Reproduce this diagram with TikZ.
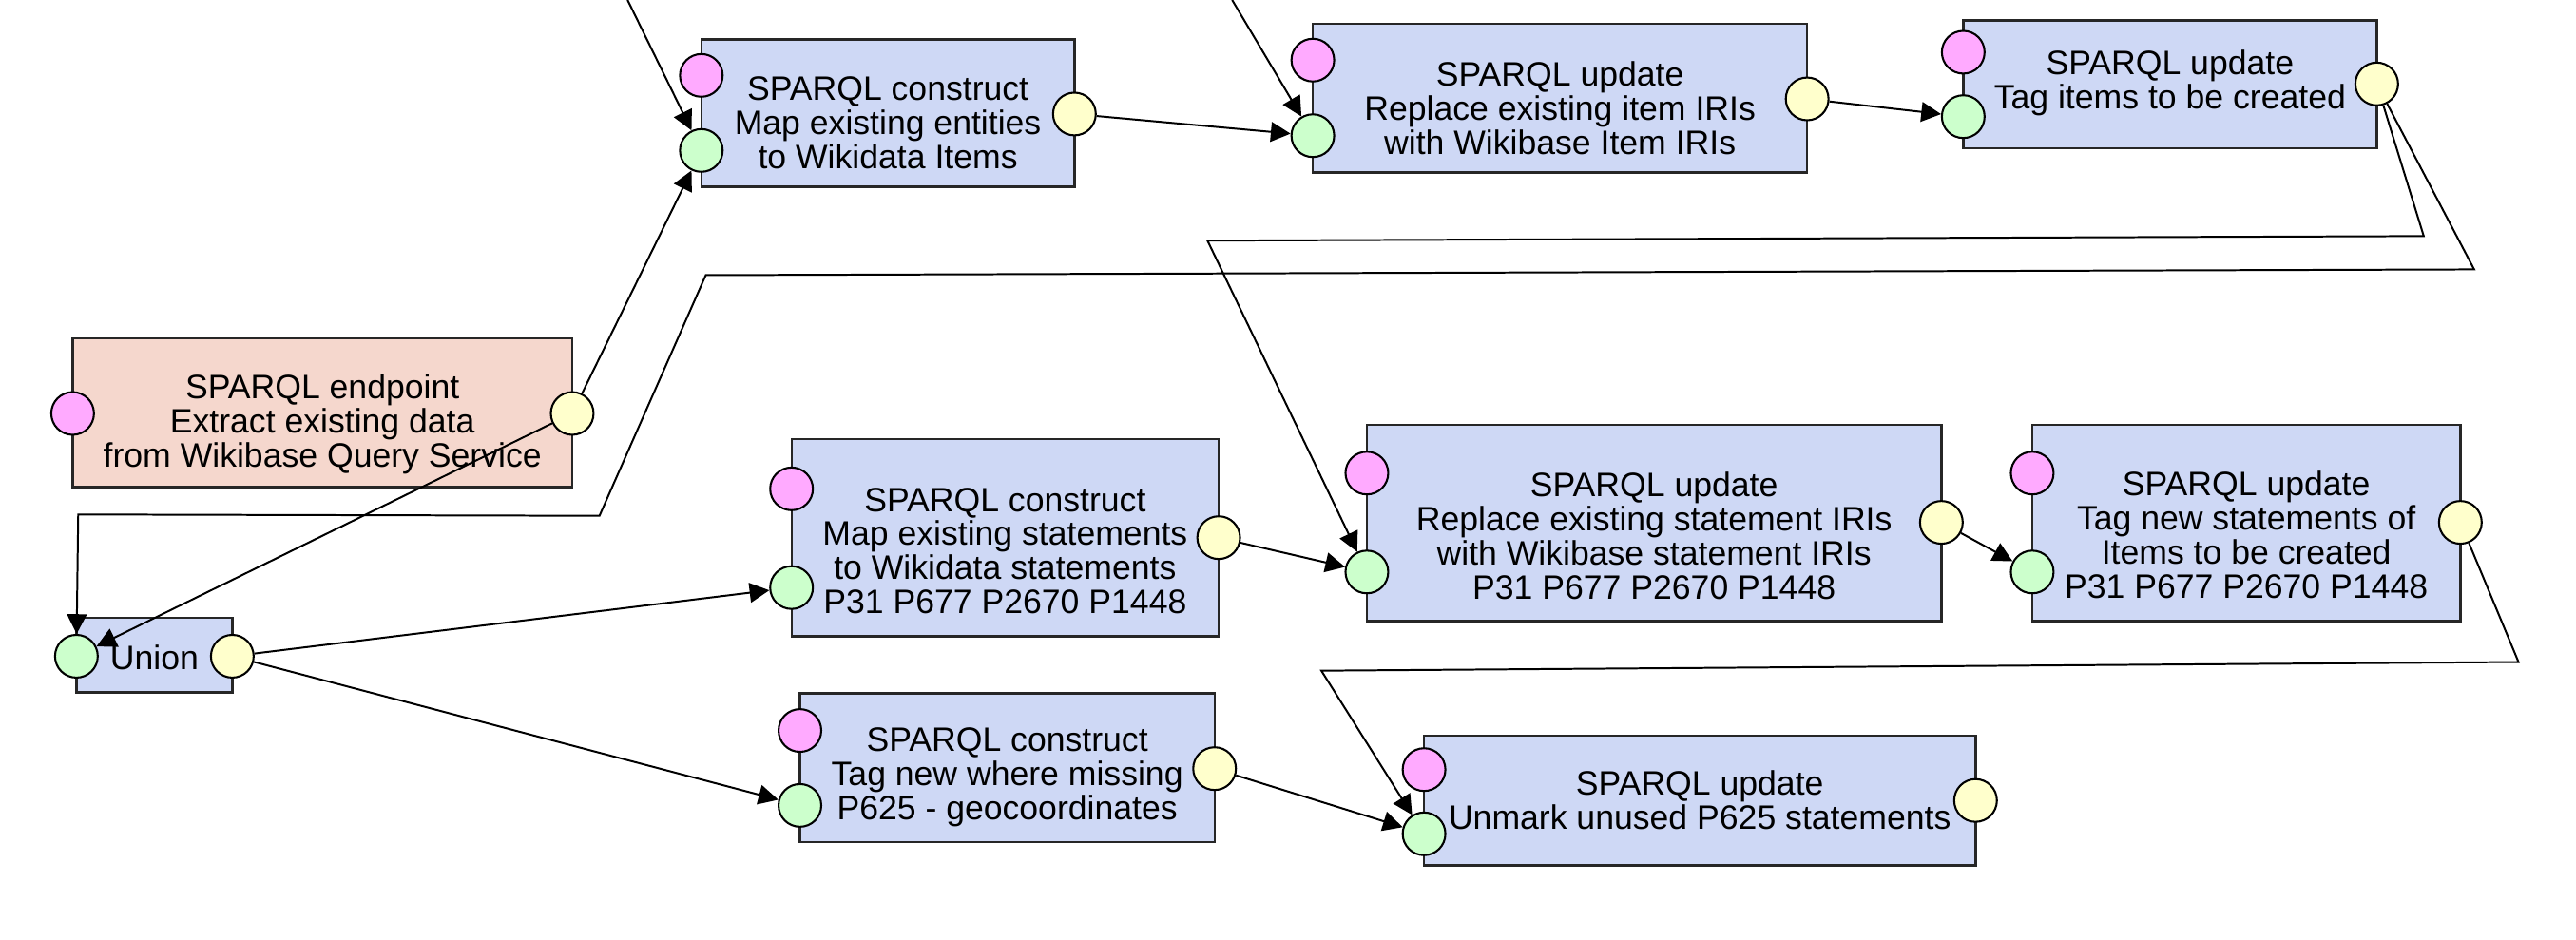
\documentclass[tikz,border=0pt]{standalone}
\usepackage{fontspec}
\setmainfont{Liberation Sans}
\usetikzlibrary{arrows.meta}
\definecolor{taskblue}{RGB}{206,216,245}
\definecolor{srcpink}{RGB}{245,215,205}
\definecolor{parampink}{RGB}{255,170,255}
\definecolor{ingreen}{RGB}{204,255,204}
\definecolor{outyellow}{RGB}{255,255,204}

\begin{document}
\begin{tikzpicture}[x=1pt,y=-1pt,
    task/.style={rectangle,draw=black!85,line width=1.4pt,fill=taskblue,inner sep=0pt},
    source/.style={task,fill=srcpink},
    lbl/.style={align=center,inner sep=0pt,font=\fontsize{20.6}{20.8}\selectfont},
    port/.style={circle,draw=black,line width=1.2pt,minimum size=26pt,inner sep=0pt},
    param/.style={port,fill=parampink},
    inport/.style={port,fill=ingreen},
    outport/.style={port,fill=outyellow},
    flow/.style={-{Triangle[length=12pt,width=12pt]},line width=1.15pt}]
    \useasboundingbox (0,0) rectangle (1568,571.7);

    % boxes
    \node[source,minimum width=304.1pt,minimum height=90.5pt] (ep) at (196.25,251.25) {};
    \node[task,minimum width=227.1pt,minimum height=89.7pt] (c1) at (540.45,68.95) {};
    \node[task,minimum width=300.9pt,minimum height=90.5pt] (u1) at (949.55,59.75) {};
    \node[task,minimum width=251.7pt,minimum height=77.8pt] (u2) at (1320.85,51.4) {};
    \node[task,minimum width=94.9pt,minimum height=45.5pt] (un) at (93.95,398.75) {};
    \node[task,minimum width=260pt,minimum height=120pt] (c2) at (611.8,327.4) {};
    \node[task,minimum width=349.7pt,minimum height=119.5pt] (u3) at (1006.85,318.25) {};
    \node[task,minimum width=260.6pt,minimum height=119.5pt] (u4) at (1367.3,318.25) {};
    \node[task,minimum width=252.4pt,minimum height=90.4pt] (c3) at (613.1,467.4) {};
    \node[task,minimum width=335.7pt,minimum height=78.7pt] (u5) at (1034.65,487.35) {};

    % texts
    \node[lbl] (ept) at (196.25,258) {SPARQL endpoint\\Extract existing data\\from Wikibase Query Service};
    \node[lbl] (c1t) at (540.45,75) {SPARQL construct\\Map existing entities\\to Wikidata Items};
    \node[lbl] (u1t) at (949.55,66) {SPARQL update\\Replace existing item IRIs\\with Wikibase Item IRIs};
    \node[lbl] (u2t) at (1320.85,50.7) {SPARQL update\\Tag items to be created};
    \node[lbl] (unt) at (94,400) {Union};
    \node[lbl] (c2t) at (611.8,335.4) {SPARQL construct\\Map existing statements\\to Wikidata statements\\P31 P677 P2670 P1448};
    \node[lbl] (u3t) at (1006.85,326) {SPARQL update\\Replace existing statement IRIs\\with Wikibase statement IRIs\\P31 P677 P2670 P1448};
    \node[lbl] (u4t) at (1367.3,325.5) {SPARQL update\\Tag new statements of\\Items to be created\\P31 P677 P2670 P1448};
    \node[lbl] (c3t) at (613.1,473) {SPARQL construct\\Tag new where missing\\P625 - geocoordinates};
    \node[lbl] (u5t) at (1034.65,486.8) {SPARQL update\\Unmark unused P625 statements};

    % ports
    \node[param] (epp) at (44.2,251.7) {};
    \node[outport] (epo) at (348.3,251.7) {};
    \node[param] (c1p) at (426.9,45.9) {};
    \node[inport] (c1i) at (426.9,91.6) {};
    \node[outport] (c1o) at (654,69.4) {};
    \node[param] (u1p) at (799.1,36.6) {};
    \node[inport] (u1i) at (799.1,82.6) {};
    \node[outport] (u1o) at (1100,60.2) {};
    \node[param] (u2p) at (1195,31.8) {};
    \node[inport] (u2i) at (1195,71) {};
    \node[outport] (u2o) at (1446.7,51.1) {};
    \node[inport] (uni) at (46.5,399.5) {};
    \node[outport] (uno) at (141.4,399.5) {};
    \node[param] (c2p) at (481.8,297.6) {};
    \node[inport] (c2i) at (481.8,357.7) {};
    \node[outport] (c2o) at (741.8,327.3) {};
    \node[param] (u3p) at (832,288) {};
    \node[inport] (u3i) at (832,348.2) {};
    \node[outport] (u3o) at (1181.7,318) {};
    \node[param] (u4p) at (1237,288) {};
    \node[inport] (u4i) at (1237,348.2) {};
    \node[outport] (u4o) at (1497.6,318) {};
    \node[param] (c3p) at (486.9,444.7) {};
    \node[inport] (c3i) at (486.9,490.3) {};
    \node[outport] (c3o) at (739.3,467.9) {};
    \node[param] (u5p) at (866.8,468.5) {};
    \node[inport] (u5i) at (866.8,507.6) {};
    \node[outport] (u5o) at (1202.5,487.3) {};

    % free ends at the top edge
    \coordinate (top1) at (382,0);
    \coordinate (top2) at (750,0);

    \path[flow]
    (top1) edge (c1i)
    (top2) edge (u1i)
    (epo) edge (c1i)
          edge (uni)
    (c1o) edge (u1i)
    (u1o) edge (u2i)
    (uno) edge (c2i)
          edge (c3i)
    (c2o) edge (u3i)
    (u3o) edge (u4i)
    (c3o) edge (u5i);

    \draw[flow] (u2o) -- (1475.3,143.7) -- (735,146.5) -- (u3i);
    \draw[flow] (u2o) -- (1506,164) -- (429.6,167.5) -- (364.9,314) -- (47.6,313.2) -- (uni);
    \draw[flow] (u4o) -- (1533,403) -- (804.3,408.3) -- (u5i);
\end{tikzpicture}
\end{document}
